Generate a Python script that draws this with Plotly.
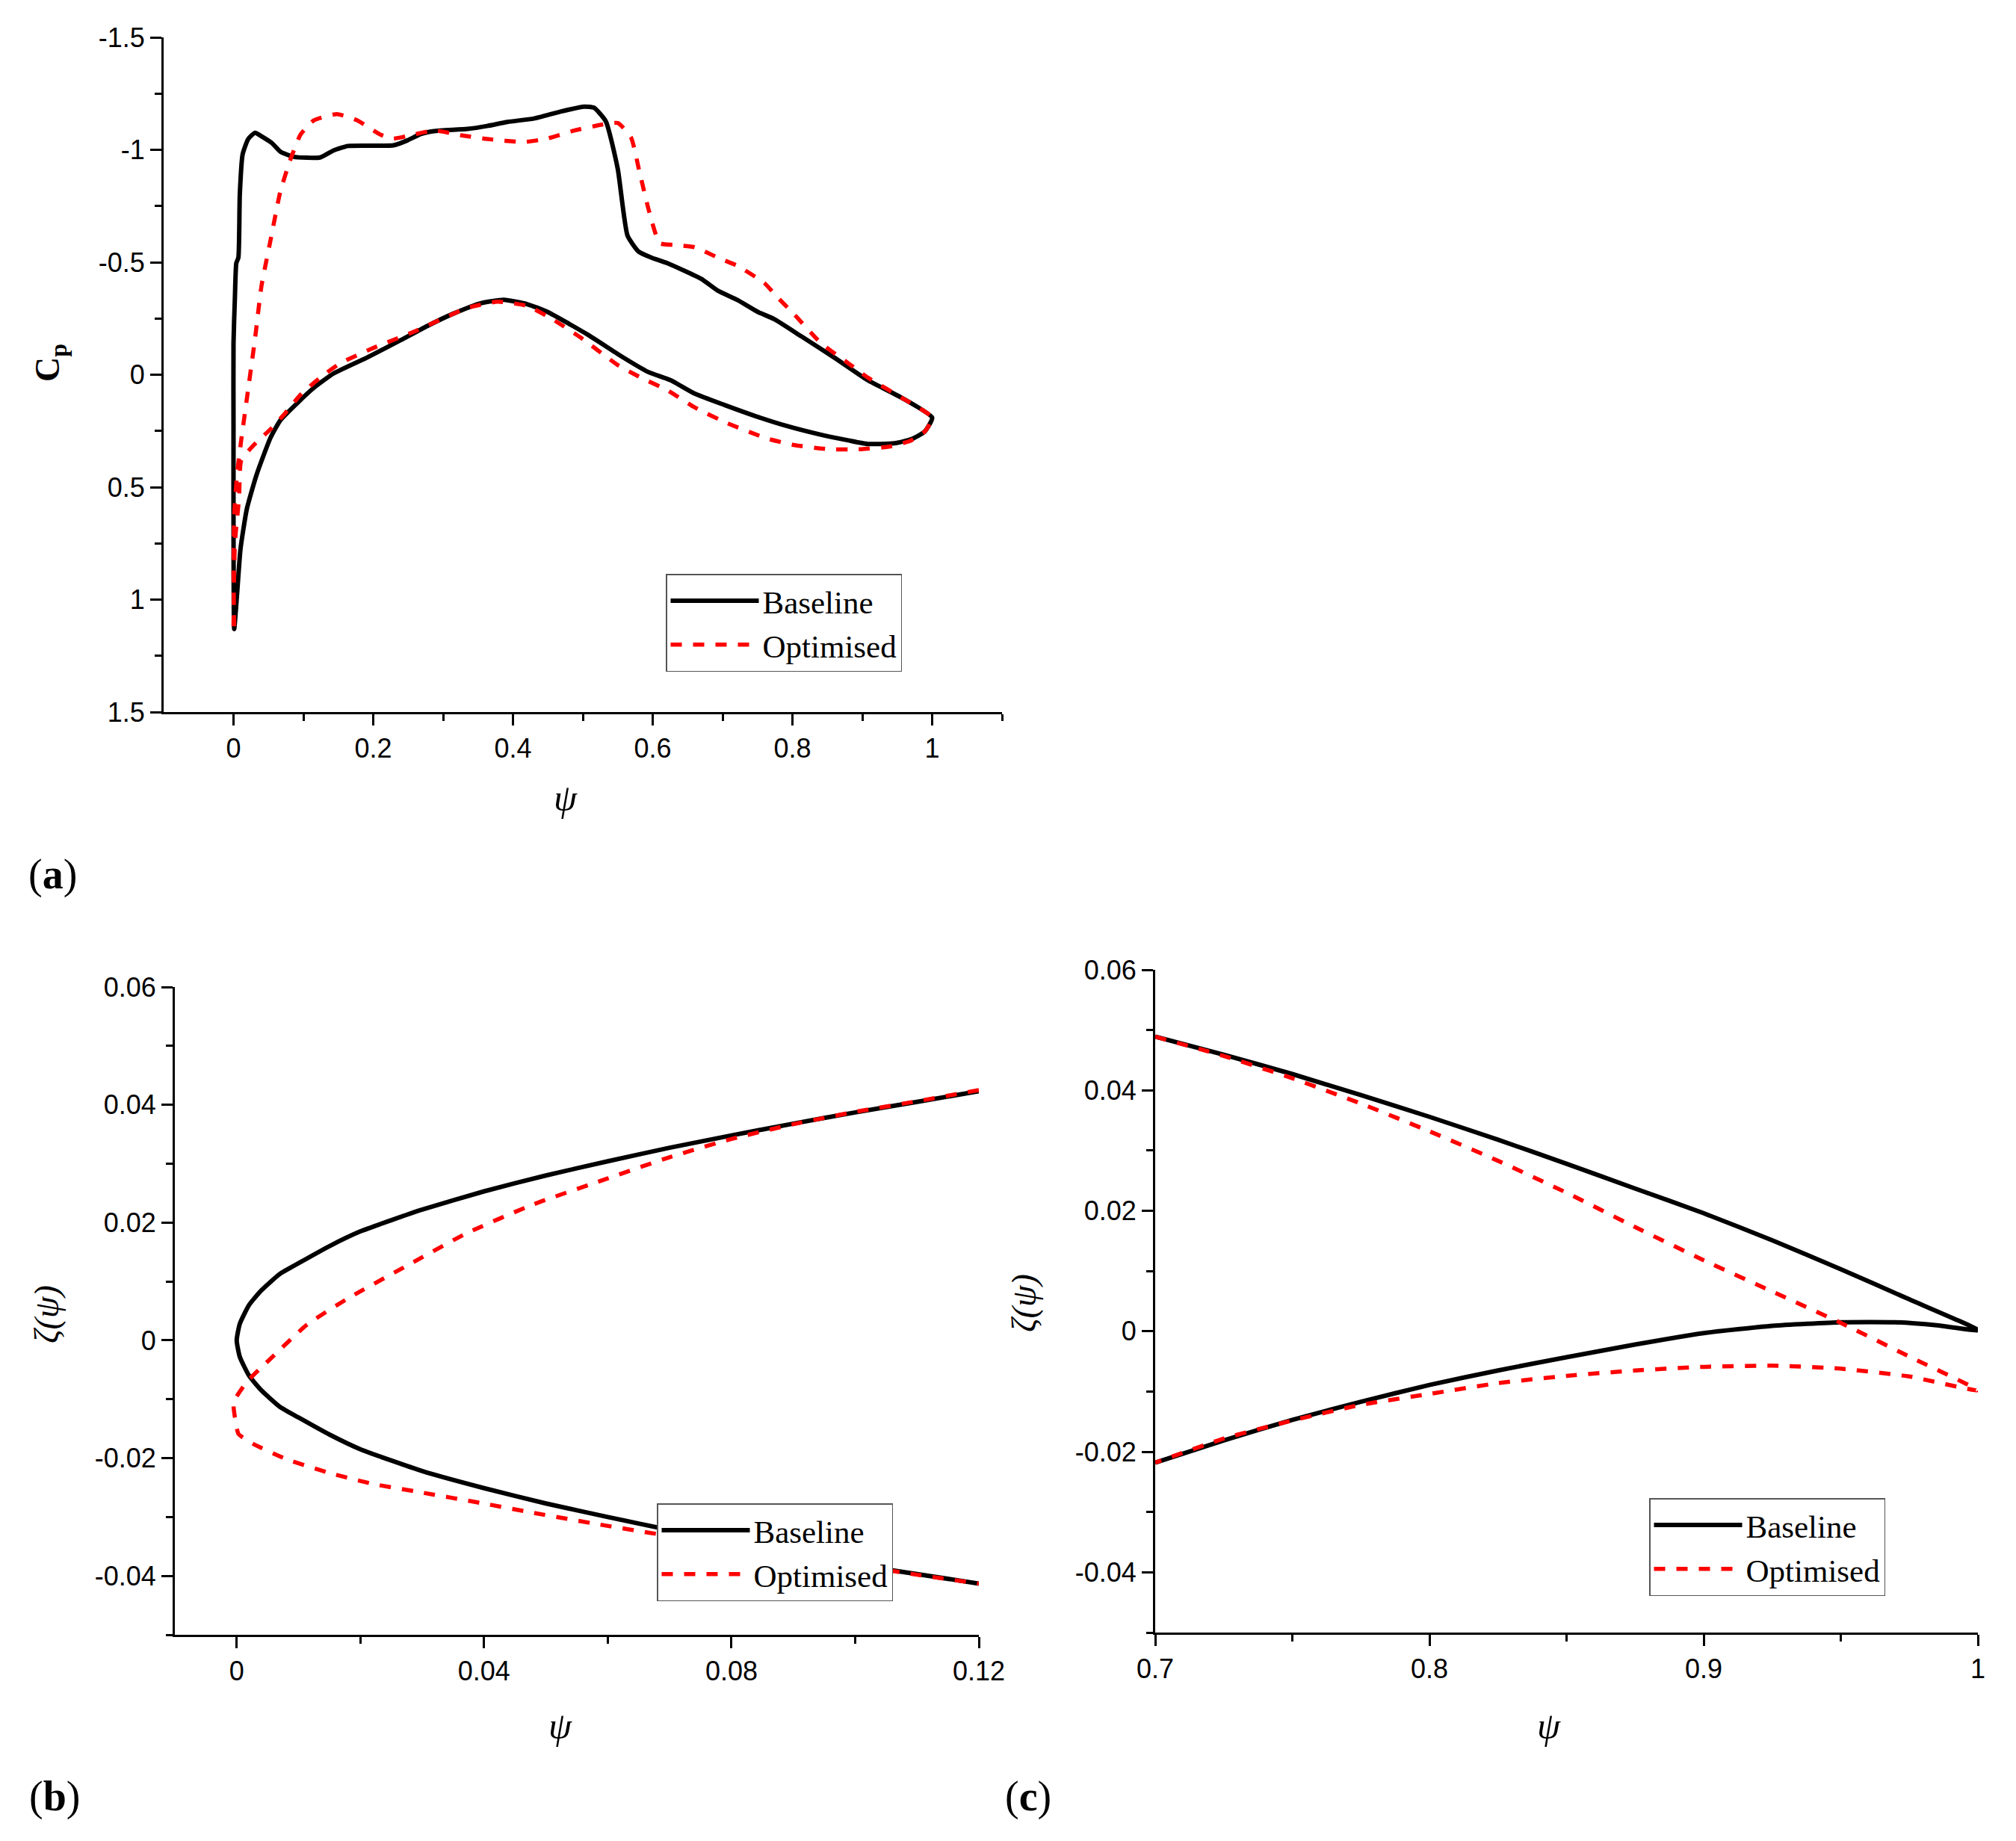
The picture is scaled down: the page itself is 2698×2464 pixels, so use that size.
import plotly.graph_objects as go

# ---------- data ----------
a_base_psi = [0.001,0,0,0,.002,.004,.007,.009,.013,.021,.031,.040,.055,.067,.086,.124,.143,.164,.229,.249,.268,.287,.335,.363,.392,.430,.468,.502,.516,.533,.550,.564,.580,.598,.621,.669,.693,.722,.750,.774,.813,.860,.908,.956,1.0,
              .989,.970,.946,.908,.880,.841,.793,.746,.703,.660,.626,.593,.554,.507,.449,.421,.387,.354,.315,.277,.239,.191,.143,.115,.091,.067,.053,.033,.019,.010,.005,.001]
a_base_cp = [1.131,.623,.242,-.14,-.343,-.496,-.521,-.801,-.979,-1.048,-1.076,-1.060,-1.030,-.992,-.969,-.966,-.997,-1.017,-1.020,-1.042,-1.070,-1.083,-1.093,-1.106,-1.124,-1.139,-1.170,-1.192,-1.187,-1.126,-.915,-.618,-.547,-.521,-.496,-.427,-.374,-.331,-.280,-.247,-.170,-.076,.025,.102,.191,
             .254,.287,.305,.308,.292,.267,.229,.183,.135,.084,.025,-.013,-.084,-.178,-.280,-.313,-.333,-.318,-.272,-.216,-.153,-.076,-.005,.058,.127,.203,.280,.445,.598,.775,.979,1.131]
a_opt_psi = [.001,0,.001,.005,.011,.021,.031,.040,.053,.067,.081,.096,.115,.148,.177,.210,.229,.258,.287,.325,.363,.416,.449,.488,.526,.550,.569,.581,.595,.610,.631,.660,.693,.722,.760,.779,.803,.841,.880,.908,.956,1.0,
             .989,.970,.942,.899,.851,.803,.765,.707,.660,.621,.583,.550,.497,.459,.421,.378,.335,.306,.258,.201,.153,.124,.096,.072,.053,.029,.011,.008,.002,0]
a_opt_cp = [1.119,.877,.623,.445,.292,.064,-.165,-.394,-.598,-.814,-.953,-1.068,-1.131,-1.159,-1.131,-1.068,-1.050,-1.068,-1.086,-1.065,-1.048,-1.035,-1.050,-1.086,-1.111,-1.119,-1.055,-.903,-.725,-.585,-.577,-.567,-.521,-.483,-.407,-.343,-.267,-.140,-.051,.013,.102,.191,
            .254,.292,.318,.331,.331,.313,.285,.216,.145,.069,.013,-.043,-.165,-.242,-.305,-.325,-.297,-.259,-.191,-.120,-.051,.013,.089,.178,.242,.313,.381,.547,.750,1.119]

b_base_psi = [.12,.11,.10,.09,.08,.07,.06,.05,.04,.03,.025,.02,.015,.01,.007,.004,.002,.0005,0,.0005,.002,.004,.007,.01,.015,.02,.03,.04,.05,.06,.07,.08,.09,.10,.11,.12]
b_base_zeta = [.0423,.0405,.0387,.0368,.0348,.0327,.0304,.0280,.0253,.0222,.0204,.0185,.0160,.0131,.0113,.0085,.0060,.0028,0,-.0028,-.0060,-.0085,-.0113,-.0131,-.0160,-.0185,-.0222,-.0251,-.0277,-.0300,-.0322,-.0343,-.0363,-.0381,-.0397,-.0413]
b_opt_psi = [.12,.11,.10,.09,.08,.07,.06,.048,.0372,.0286,.0178,.0113,.0049,.0016,-.0005,-.0003,.0003,.0027,.0081,.0156,.0221,.0297,.0394,.048,.0588,.068,.0804,.09,.10,.11,.12]
b_opt_zeta = [.0425,.0406,.0388,.0367,.0342,.0311,.0275,.0231,.0182,.0133,.0070,.0026,-.0037,-.0071,-.0105,-.0130,-.0159,-.0176,-.0202,-.0227,-.0244,-.0258,-.0276,-.0293,-.0313,-.0329,-.0351,-.0366,-.0382,-.0398,-.0413]

c_base_psi = [.7,.725,.75,.775,.8,.825,.85,.875,.9,.925,.95,.975,1,.985,.97,.95,.925,.9,.875,.85,.825,.8,.775,.75,.725,.7]
c_base_zeta = [.0489,.0459,.0427,.0392,.0356,.0318,.0278,.0237,.0196,.0151,.0103,.0053,.0002,.0010,.0015,.0015,.0009,-.0003,-.0022,-.0043,-.0065,-.0089,-.0117,-.0147,-.0181,-.0218]
c_opt_psi = [.7,.725,.75,.775,.8,.825,.85,.875,.9,.925,.95,.975,1,.975,.95,.925,.9,.875,.85,.825,.8,.775,.75,.725,.7]
c_opt_zeta = [.0489,.0457,.0420,.0378,.0332,.0283,.0230,.0173,.0118,.0066,.0014,-.0042,-.0098,-.0075,-.0062,-.0057,-.0059,-.0065,-.0074,-.0086,-.0104,-.0122,-.0148,-.0178,-.0218]

series_names = ["Baseline", "Optimised"]
a_xticks = [0, .2, .4, .6, .8, 1]
a_xlabels = ["0", "0.2", "0.4", "0.6", "0.8", "1"]
a_xminor = [.1, .3, .5, .7, .9, 1.1]
a_yticks = [-1.5, -1, -.5, 0, .5, 1, 1.5]
a_ylabels = ["-1.5", "-1", "-0.5", "0", "0.5", "1", "1.5"]
a_yminor = [-1.25, -.75, -.25, .25, .75, 1.25]
b_xticks = [0, .04, .08, .12]
b_xlabels = ["0", "0.04", "0.08", "0.12"]
b_xminor = [.02, .06, .1]
z_yticks = [-.04, -.02, 0, .02, .04, .06]
z_ylabels = ["-0.04", "-0.02", "0", "0.02", "0.04", "0.06"]
z_yminor = [-.05, -.03, -.01, .01, .03, .05]
c_xticks = [.7, .8, .9, 1]
c_xlabels = ["0.7", "0.8", "0.9", "1"]
c_xminor = [.75, .85, .95]

# ---------- layout ----------
W, H = 2698, 2464
SERIF = "Liberation Serif"
SANS = "Liberation Sans"

def dx(a, b): return [a / W, b / W]
def dy(top, bottom): return [1 - bottom / H, 1 - top / H]

fig = go.Figure()

def add(psi, val, name, xa, ya, leg):
    dash = name == "Optimised"
    fig.add_trace(go.Scatter(
        x=psi, y=val, name=name, mode="lines", xaxis=xa, yaxis=ya, legend=leg, cliponaxis=False,
        line=dict(color="#ff0000" if dash else "#000000", width=5.5 if dash else 6,
                  dash="15px,15px" if dash else "solid", shape="spline", smoothing=0.5)))

add(a_base_psi, a_base_cp, series_names[0], "x", "y", "legend")
add(a_opt_psi, a_opt_cp, series_names[1], "x", "y", "legend")
add(b_base_psi, b_base_zeta, series_names[0], "x2", "y2", "legend2")
add(b_opt_psi, b_opt_zeta, series_names[1], "x2", "y2", "legend2")
add(c_base_psi, c_base_zeta, series_names[0], "x3", "y3", "legend3")
add(c_opt_psi, c_opt_zeta, series_names[1], "x3", "y3", "legend3")

def axis(domain, rng, vals, text, minor, anchor):
    return dict(domain=domain, range=rng, anchor=anchor, showgrid=False, zeroline=False, automargin=False,
                showline=True, linecolor="black", linewidth=3, mirror=False,
                ticks="outside", ticklen=15, tickwidth=3, tickcolor="black",
                tickmode="array", tickvals=vals, ticktext=text,
                tickfont=dict(family=SANS, size=36, color="black"),
                minor=dict(tickmode="array", tickvals=minor, ticks="outside", ticklen=9, tickwidth=3, tickcolor="black", showgrid=False))

def legend(x0, y0):
    return dict(x=x0 / W, y=1 - y0 / H, xanchor="left", yanchor="top", bgcolor="white",
                bordercolor="#555555", borderwidth=1.5, itemwidth=118, tracegroupgap=0,
                font=dict(family=SERIF, size=43, color="black"), itemclick=False, itemdoubleclick=False)

fig.update_layout(
    width=W, height=H, margin=dict(l=0, r=0, t=0, b=0, autoexpand=False), paper_bgcolor="white", plot_bgcolor="white",
    xaxis=axis(dx(219, 1341), [-.1, 1.1], a_xticks, a_xlabels, a_xminor, "y"),
    yaxis=axis(dy(50, 953), [1.5, -1.5], a_yticks, a_ylabels, a_yminor, "x"),
    xaxis2=axis(dx(234, 1310), [-.01, .12], b_xticks, b_xlabels, b_xminor, "y2"),
    yaxis2=axis(dy(1321, 2188), [-.05, .06], z_yticks, z_ylabels, z_yminor, "x2"),
    xaxis3=axis(dx(1546, 2647), [.7, 1], c_xticks, c_xlabels, c_xminor, "y3"),
    yaxis3=axis(dy(1298, 2185), [-.05, .06], z_yticks, z_ylabels, z_yminor, "x3"),
    legend=legend(891, 768), legend2=legend(879, 2012), legend3=legend(2207, 2005),
)

def note(text, px, py, size, angle=0):
    fig.add_annotation(text=text, x=px / W, y=1 - py / H, xref="paper", yref="paper", showarrow=False,
                       xanchor="center", yanchor="middle", textangle=angle,
                       font=dict(family=SERIF, size=size, color="black"))

note("<i>ψ</i>", 757, 1068, 50)
note("<i>ψ</i>", 750, 2310, 50)
note("<i>ψ</i>", 2073, 2310, 50)
note("<b>C<sub>p</sub></b>", 67, 486, 46, -90)
note("<i>ζ(ψ)</i>", 62, 1759, 46, -90)
note("<i>ζ(ψ)</i>", 1370, 1744, 46, -90)
note("(<b>a</b>)", 70, 1170, 56)
note("(<b>b</b>)", 73, 2404, 56)
note("(<b>c</b>)", 1376, 2404, 56)

fig.write_html("out.html", post_script="document.body.style.margin='0';", config=dict(displayModeBar=False))
